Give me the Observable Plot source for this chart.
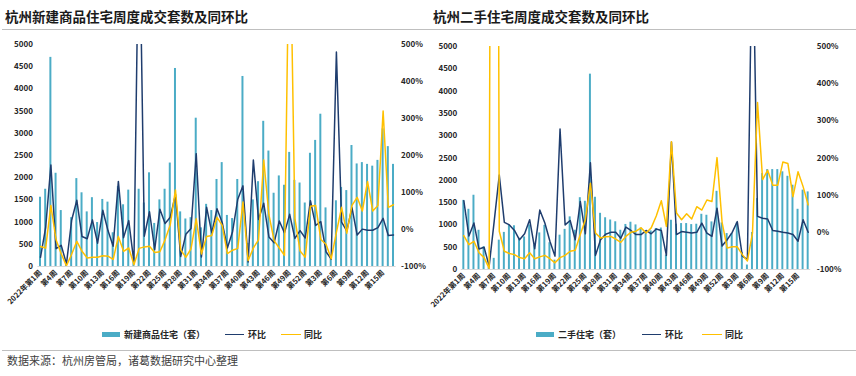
<!DOCTYPE html>
<html><head><meta charset="utf-8">
<script src="https://cdn.jsdelivr.net/npm/d3@7"></script>
<script src="https://cdn.jsdelivr.net/npm/@observablehq/plot@0.6"></script>
<style>
body{margin:0;width:856px;height:376px;position:relative;background:#fff;font-family:"Noto Sans CJK SC","Noto Sans",sans-serif;color:#262626;overflow:hidden}
.abs{position:absolute}
.title{font-size:13.5px;font-weight:bold;line-height:1;top:10px;white-space:nowrap;color:#1a1a1a}
.hr{height:1.5px;background:#bfbfbf}
.leg{font-size:9px;font-weight:bold;line-height:1;white-space:nowrap;top:329.5px}
.sw{height:5px;top:331.5px;background:#4bacc6}
.ln{height:1.6px;top:333.5px}
.src{font-size:11px;line-height:1;top:355px;left:7px;color:#404040;white-space:nowrap}
</style></head><body>
<div class="abs title" style="left:5px">杭州新建商品住宅周度成交套数及同环比</div>
<div class="abs title" style="left:433px">杭州二手住宅周度成交套数及同环比</div>
<div class="abs hr" style="left:2px;width:426px;top:28.5px"></div>
<div class="abs hr" style="left:428px;width:428px;top:28.5px"></div>
<div id="c1" class="abs" style="left:0;top:0"></div>
<div id="c2" class="abs" style="left:428px;top:0"></div>
<div class="abs sw" style="left:102px;width:18px"></div>
<div class="abs leg" style="left:124px">新建商品住宅（套）</div>
<div class="abs ln" style="left:225px;width:19px;background:#1f3d6e"></div>
<div class="abs leg" style="left:248px">环比</div>
<div class="abs ln" style="left:281px;width:20px;background:#ffc000"></div>
<div class="abs leg" style="left:304px">同比</div>
<div class="abs sw" style="left:536px;width:18px"></div>
<div class="abs leg" style="left:558px">二手住宅（套）</div>
<div class="abs ln" style="left:642px;width:19px;background:#1f3d6e"></div>
<div class="abs leg" style="left:665px">环比</div>
<div class="abs ln" style="left:702px;width:20px;background:#ffc000"></div>
<div class="abs leg" style="left:725px">同比</div>
<div class="abs hr" style="left:2px;width:854px;top:349.5px"></div>
<div class="abs src">数据来源：杭州房管局，诸葛数据研究中心整理</div>
<script>
// x tick labels (every 3rd week, 2022 W1 .. 2023 W15)
const tickLabels = ["2022年第1周","第4周","第7周","第10周","第13周","第16周","第19周","第22周","第25周","第28周","第31周","第34周","第37周","第40周","第43周","第46周","第49周","第52周","第3周","第6周","第9周","第12周","第15周"];
const leftTicks = [0,500,1000,1500,2000,2500,3000,3500,4000,4500,5000];
const pctTicks = [-100,0,100,200,300,400,500];

// 杭州新建商品住宅 (套), 环比 (%), 同比 (%)
const newHomes = [1560,1740,4710,2100,1260,60,1100,1980,1660,1230,
  1550,990,1510,1450,760,1800,1390,1720,200,1740,
  1430,2110,970,1500,1740,2330,4460,1230,1070,1100,
  3340,870,1400,1260,1960,2340,1150,1080,1960,4280,
  520,1500,1910,3270,2600,1650,2040,1830,2570,1940,
  1880,1430,2550,2840,3430,1320,255,1480,1780,1710,
  2725,2310,2340,2300,2260,2390,3100,2700,2300];
const newMoM = [-75,6,174,-52,-43,-93,25,79,-19,-25,
  26,-37,52,-3,-45,130,-22,24,-89,900,
  -18,48,-54,55,16,33,95,-73,-13,3,
  205,-74,60,-9,56,19,-50,-6,82,118,
  -88,188,27,71,-20,-36,23,-9,41,-24,
  -3,-23,78,11,21,-60,-80,480,20,-4,
  59,-15,1,-2,-2,5,30,-16,-15];
const newYoY = [-46,-50,65,-28,-66,-98,-67,-32,-59,-77,
  -75,-75,-71,-72,-81,-19,-59,-50,-95,-51,
  -47,-45,-62,-60,-28,13,107,-55,-75,-52,
  29,-66,-19,-16,33,11,-65,-56,-51,74,
  -84,-50,-28,188,40,-30,-50,-70,900,30,
  -58,-75,63,65,-27,-40,-79,-8,60,-10,
  65,87,50,130,50,65,320,60,67];

// 杭州二手住宅 (套), 环比 (%), 同比 (%)
const resale = [1550,1350,1665,880,510,50,250,658,832,990,
  980,700,730,1000,550,820,990,600,210,770,
  900,1180,880,1610,1530,4380,1620,1260,1160,1110,
  1070,880,1010,1060,1000,930,870,865,920,930,
  322,1104,1015,1030,1030,1007,1015,1238,1216,1067,
  1753,1044,806,810,1045,380,100,830,1590,2150,
  2240,2240,2240,2190,2090,1890,1350,1780,1740];
const resaleMoM = [85,-10,25,-45,-40,-91,30,154,27,20,
  5,-20,-4,34,-44,60,25,-24,-64,278,
  20,32,-20,83,-4,187,-62,-20,-5,0,
  0,-16,14,5,-6,-6,5,-4,9,5,
  -62,243,-6,2,0,-2,0,25,-2,-11,
  65,-37,-20,0,29,-64,-73,850,43,38,
  36,5,3,0,-2,-6,-24,34,0];
const resaleYoY = [-9,-33,-24,-55,-68,-97,4500,3,-51,-57,
  -60,-68,-71,-55,-71,-66,-62,-71,-82,-68,
  -62,-51,-48,-6,34,132,-2,-15,-12,-11,
  -18,-27,-11,0,3,12,-2,12,44,85,
  16,244,52,34,50,36,69,60,87,83,
  201,27,-42,-39,-39,-60,-77,-2,349,142,
  167,127,127,189,185,96,163,123,74];

const toLeft = p => (p + 100) * 5000 / 600;
const tickIdx = tickLabels.map((_, k) => 1 + 3 * k);

function panel(bars, mom, yoy, m) {
  const data = bars.map((v, k) => ({i: k + 1, v, mom: mom[k], yoy: yoy[k]}));
  return Plot.plot({
    width: 428, height: 325,
    marginTop: m.top, marginBottom: m.bottom, marginLeft: m.left, marginRight: m.right,
    x: {domain: [0.5, 69.5]},
    y: {domain: [0, 5000]},
    style: {fontFamily: '"Noto Sans CJK SC","Noto Sans",sans-serif', fontWeight: "bold", fontSize: "8px", color: "#262626", background: "transparent", overflow: "visible"},
    marks: [
      Plot.ruleY([0], {stroke: "#d9d9d9", strokeWidth: 1}),
      Plot.rectY(data, {x1: d => d.i - 0.5, x2: d => d.i + 0.5, y: "v", fill: "#4bacc6", insetLeft: m.inset, insetRight: m.inset}),
      Plot.line(data, {x: "i", y: d => toLeft(d.mom), stroke: "#1f3d6e", strokeWidth: 1.5, clip: true}),
      Plot.line(data, {x: "i", y: d => toLeft(d.yoy), stroke: "#ffc000", strokeWidth: 1.5, clip: true}),
      Plot.axisY(leftTicks, {anchor: "left", tickSize: 0, tickPadding: m.padL, label: null, fontSize: 8,
        tickFormat: v => String(v)}),
      Plot.axisY(pctTicks.map(toLeft), {anchor: "right", tickSize: 0, tickPadding: m.padR, label: null, fontSize: 8,
        tickFormat: v => Math.round(v * 600 / 5000 - 100) + "%"}),
      Plot.axisX(tickIdx, {anchor: "bottom", tickSize: 0, tickPadding: 5, tickRotate: -45, label: null, fontSize: 7.5,
        tickFormat: (v) => tickLabels[(v - 1) / 3]})
    ]
  });
}

document.getElementById("c1").append(panel(newHomes, newMoM, newYoY,
  {top: 44, bottom: 59, left: 37.4, right: 32.4, inset: 1.6, padL: 5, padR: 5}));
document.getElementById("c2").append(panel(resale, resaleMoM, resaleYoY,
  {top: 46, bottom: 56, left: 32.8, right: 45.8, inset: 1.55, padL: 4, padR: 6}));
</script>
</body></html>
